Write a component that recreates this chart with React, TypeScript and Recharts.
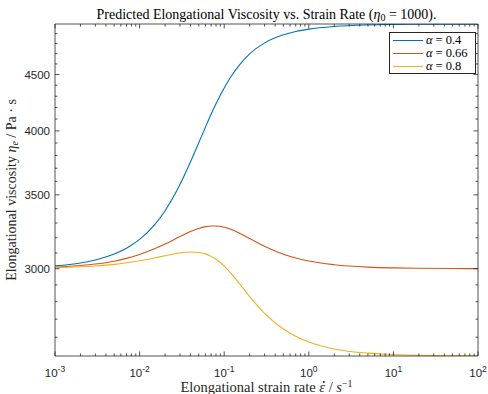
import React from 'react';
import { LineChart, Line, XAxis, YAxis } from 'recharts';

// strain rate (1/s) at the sampled points
const strainRate = [
  0.001, 0.002, 0.003, 0.005, 0.007, 0.01, 0.015, 0.02, 0.03, 0.04, 0.05, 0.06, 0.07, 0.08,
  0.1, 0.12, 0.15, 0.2, 0.3, 0.5, 0.7, 1, 2, 5, 10, 20, 50, 100,
];

// elongational viscosity (Pa s)
const etaAlpha04 = [
  3018, 3036, 3055, 3093, 3131, 3189, 3287, 3386, 3576, 3750, 3902, 4031, 4141, 4233,
  4375, 4479, 4587, 4698, 4807, 4889, 4923, 4947, 4974, 4990, 4995, 4997, 4998.5, 4999,
];
const etaAlpha066 = [
  3010, 3020, 3029, 3047, 3065, 3090, 3127, 3158, 3208, 3242, 3263, 3275, 3280, 3280,
  3271, 3257, 3232, 3195, 3144, 3092, 3068, 3048, 3025, 3010, 3005, 3002.5, 3001, 3000.5,
];
const etaAlpha08 = [
  3006, 3012, 3017, 3027, 3037, 3050, 3068, 3082, 3100, 3106, 3103, 3094, 3078, 3060,
  3016, 2971, 2910, 2830, 2733, 2645, 2605, 2574, 2537, 2515, 2508, 2504, 2501.5, 2500.8,
];

const xMajorTicks = [0.001, 0.01, 0.1, 1, 10, 100];
const xTickExponents = ['-3', '-2', '-1', '0', '1', '2'];
const yMajorTicks = [3000, 3500, 4000, 4500];

const series = [
  { key: 'a04', label: '0.4', color: '#0072BD', values: etaAlpha04 },
  { key: 'a066', label: '0.66', color: '#D95319', values: etaAlpha066 },
  { key: 'a08', label: '0.8', color: '#EDB120', values: etaAlpha08 },
];

const data = strainRate.map((x, i) => {
  const row: any = { x };
  series.forEach((s) => (row[s.key] = s.values[i]));
  return row;
});

// minor ticks like matlab's log axes
const xTicks: number[] = [];
for (let d = -3; d <= 2; d++) {
  for (let m = 1; m <= 9; m++) {
    const v = m * Math.pow(10, d);
    if (v <= 100.0001) xTicks.push(+v.toPrecision(6));
  }
}
const yTicks: number[] = [];
for (let v = 2600; v <= 4900; v += 100) yTicks.push(v);

const AXIS = '#262626';
const MAJOR = 4.5;
const MINOR = 2.5;

const isMajorX = (v: number) => xMajorTicks.some((t) => Math.abs(t - v) < t * 1e-6);

const BottomTick = (props: any) => {
  const { x, y, payload } = props;
  const i = xMajorTicks.findIndex((t) => Math.abs(t - payload.value) < t * 1e-6);
  const major = i >= 0;
  return (
    <g>
      <line x1={x} x2={x} y1={y} y2={y - (major ? MAJOR : MINOR)} stroke={AXIS} strokeWidth={0.8} />
      {major && (
        <text x={x} y={y + 21} textAnchor="middle" fontSize={11.5} fill={AXIS} fontFamily="'Liberation Sans', Arial, sans-serif">
          10<tspan dy={-5} fontSize={8.5}>{xTickExponents[i]}</tspan>
        </text>
      )}
    </g>
  );
};

const TopTick = (props: any) => {
  const { x, y, payload } = props;
  const len = isMajorX(payload.value) ? MAJOR : MINOR;
  return <line x1={x} x2={x} y1={y} y2={y + len} stroke={AXIS} strokeWidth={0.8} />;
};

const LeftTick = (props: any) => {
  const { x, y, payload } = props;
  const major = yMajorTicks.includes(payload.value);
  return (
    <g>
      <line x1={x} x2={x + (major ? MAJOR : MINOR)} y1={y} y2={y} stroke={AXIS} strokeWidth={0.8} />
      {major && (
        <text x={x - 5} y={y} dy="0.36em" textAnchor="end" fontSize={11.5} fill={AXIS} fontFamily="'Liberation Sans', Arial, sans-serif">
          {payload.value}
        </text>
      )}
    </g>
  );
};

const RightTick = (props: any) => {
  const { x, y, payload } = props;
  const len = yMajorTicks.includes(payload.value) ? MAJOR : MINOR;
  return <line x1={x} x2={x - len} y1={y} y2={y} stroke={AXIS} strokeWidth={0.8} />;
};

const serif = "'Liberation Serif', 'Times New Roman', serif";

const axisCommon = {
  type: 'number' as const,
  scale: 'log' as const,
  allowDataOverflow: true,
  interval: 0 as const,
  tickSize: 0,
  tickMargin: 0,
  tickLine: false,
  axisLine: { stroke: AXIS, strokeWidth: 0.8 },
};

export default function App() {
  return (
    <div style={{ position: 'absolute', left: 0, top: 0, width: 488, height: 394, background: '#fff', fontFamily: serif }}>
      <LineChart width={488} height={394} data={data} margin={{ top: 23, right: 9, bottom: 37, left: 54 }}>
        <XAxis
          {...axisCommon}
          xAxisId="bottom"
          dataKey="x"
          domain={[0.001, 100]}
          ticks={xTicks}
          height={1}
          tick={(p: any) => <BottomTick {...p} />}
        />
        <XAxis
          {...axisCommon}
          xAxisId="top"
          orientation="top"
          dataKey="x"
          domain={[0.001, 100]}
          ticks={xTicks}
          height={1}
          tick={(p: any) => <TopTick {...p} />}
        />
        <YAxis
          {...axisCommon}
          yAxisId="left"
          domain={[2500, 5000]}
          ticks={yTicks}
          width={1}
          tick={(p: any) => <LeftTick {...p} />}
        />
        <YAxis
          {...axisCommon}
          yAxisId="right"
          orientation="right"
          domain={[2500, 5000]}
          ticks={yTicks}
          width={1}
          tick={(p: any) => <RightTick {...p} />}
        />
        {series.map((s) => (
          <Line
            key={s.key}
            xAxisId="bottom"
            yAxisId="left"
            type="monotone"
            dataKey={s.key}
            stroke={s.color}
            strokeWidth={1.1}
            dot={false}
            activeDot={false}
            isAnimationActive={false}
          />
        ))}
      </LineChart>

      {/* title */}
      <div style={{ position: 'absolute', left: 266.5, top: 7, transform: 'translateX(-50%)', whiteSpace: 'nowrap', fontSize: 14, lineHeight: '15px', color: '#000' }}>
        Predicted Elongational Viscosity vs. Strain Rate (<i>η</i><sub style={{ fontSize: 10, verticalAlign: '-2px' }}>0</sub> = 1000).
      </div>

      {/* x label */}
      <div style={{ position: 'absolute', left: 266.5, top: 376, transform: 'translateX(-50%)', whiteSpace: 'nowrap', fontSize: 14.5, lineHeight: '15px', color: AXIS }}>
        Elongational strain rate{' '}
        <span style={{ position: 'relative', display: 'inline-block' }}>
          <i>ε</i>
          <span style={{ position: 'absolute', left: 3.5, top: 1, width: 2, height: 2, borderRadius: 1, background: AXIS }} />
        </span>{' '}
        / <i>s</i><sup style={{ fontSize: 10, verticalAlign: '5px' }}>−1</sup>
      </div>

      {/* y label */}
      <div style={{ position: 'absolute', left: 13, top: 190, transform: 'translate(-50%, -50%) rotate(-90deg)', whiteSpace: 'nowrap', fontSize: 14, lineHeight: '15px', color: AXIS }}>
        Elongational viscosity <i>η</i><sub style={{ fontSize: 10, verticalAlign: '-2px' }}><i>e</i></sub> / Pa · s
      </div>

      {/* legend */}
      <div style={{ position: 'absolute', left: 389, top: 32, width: 87, height: 42, border: `1px solid ${AXIS}`, background: '#fff', boxSizing: 'border-box', paddingTop: 1 }}>
        {series.map((s) => (
          <div key={s.key} style={{ display: 'flex', alignItems: 'center', height: 13, lineHeight: '13px', fontSize: 12.5, color: '#000' }}>
            <span style={{ display: 'inline-block', width: 30, height: 0, borderTop: `1.2px solid ${s.color}`, marginLeft: 3, marginRight: 3 }} />
            <i style={{ display: 'inline-block', marginRight: 3 }}>α</i>
            <span style={{ whiteSpace: 'nowrap' }}>{`= ${s.label}`}</span>
          </div>
        ))}
      </div>
    </div>
  );
}
